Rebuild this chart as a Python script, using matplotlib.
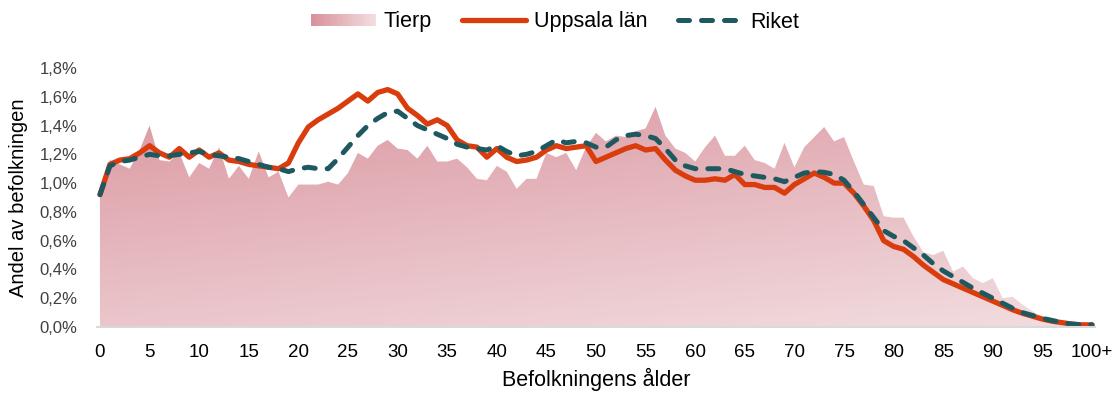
import numpy as np
import matplotlib
matplotlib.use('Agg')
import matplotlib.pyplot as plt
from matplotlib.patches import Rectangle
from matplotlib.legend_handler import HandlerBase
from matplotlib.lines import Line2D
from matplotlib.ticker import FuncFormatter, MultipleLocator
import matplotlib.colors as mcolors

plt.rcParams['font.family'] = ['Liberation Sans', 'DejaVu Sans']

# Ålder 0..100+ (andel av befolkningen, %)
ages = list(range(101))
tick_ages = list(range(0, 101, 5))
tick_labels = [str(a) for a in tick_ages[:-1]] + ['100+']

tierp = [0.90, 1.16, 1.13, 1.10, 1.23, 1.40, 1.16, 1.15, 1.21, 1.04,
         1.14, 1.10, 1.25, 1.03, 1.12, 1.03, 1.22, 1.04, 1.08, 0.90,
         0.99, 0.99, 0.99, 1.01, 0.99, 1.07, 1.21, 1.17, 1.26, 1.30,
         1.24, 1.23, 1.17, 1.26, 1.15, 1.15, 1.17, 1.11, 1.03, 1.02,
         1.12, 1.08, 0.96, 1.03, 1.03, 1.21, 1.18, 1.21, 1.09, 1.25,
         1.35, 1.29, 1.33, 1.32, 1.36, 1.38, 1.53, 1.33, 1.24, 1.21,
         1.15, 1.25, 1.33, 1.19, 1.19, 1.26, 1.16, 1.14, 1.10, 1.28,
         1.11, 1.25, 1.32, 1.39, 1.29, 1.32, 1.15, 0.99, 0.98, 0.77,
         0.76, 0.76, 0.63, 0.52, 0.50, 0.53, 0.385, 0.42, 0.34, 0.305,
         0.34, 0.20, 0.21, 0.155, 0.11, 0.07, 0.05, 0.035, 0.025, 0.02,
         0.02]

uppsala = [0.92, 1.13, 1.16, 1.17, 1.21, 1.26, 1.21, 1.18, 1.24, 1.18,
           1.23, 1.18, 1.21, 1.16, 1.15, 1.13, 1.12, 1.11, 1.10, 1.14,
           1.28, 1.39, 1.44, 1.48, 1.52, 1.57, 1.62, 1.57, 1.63, 1.65,
           1.62, 1.52, 1.47, 1.41, 1.44, 1.40, 1.30, 1.26, 1.25, 1.18,
           1.24, 1.18, 1.15, 1.16, 1.18, 1.23, 1.26, 1.24, 1.25, 1.26,
           1.15, 1.18, 1.21, 1.24, 1.26, 1.23, 1.24, 1.16, 1.09, 1.05,
           1.02, 1.02, 1.03, 1.02, 1.06, 0.99, 0.99, 0.97, 0.97, 0.93,
           0.99, 1.03, 1.07, 1.04, 1.00, 1.00, 0.93, 0.84, 0.74, 0.60,
           0.56, 0.54, 0.49, 0.43, 0.38, 0.33, 0.30, 0.27, 0.24, 0.21,
           0.18, 0.15, 0.12, 0.095, 0.075, 0.055, 0.04, 0.03, 0.02, 0.015,
           0.015]

riket = [0.92, 1.12, 1.15, 1.16, 1.18, 1.20, 1.19, 1.19, 1.20, 1.21,
         1.22, 1.20, 1.19, 1.18, 1.17, 1.15, 1.13, 1.11, 1.10, 1.08,
         1.10, 1.11, 1.10, 1.10, 1.17, 1.25, 1.33, 1.40, 1.45, 1.49,
         1.50, 1.45, 1.40, 1.37, 1.34, 1.31, 1.27, 1.25, 1.24, 1.23,
         1.26, 1.22, 1.19, 1.20, 1.22, 1.26, 1.30, 1.28, 1.29, 1.28,
         1.25, 1.25, 1.30, 1.33, 1.34, 1.33, 1.31, 1.24, 1.16, 1.12,
         1.10, 1.10, 1.10, 1.10, 1.08, 1.06, 1.05, 1.04, 1.03, 1.01,
         1.04, 1.07, 1.08, 1.075, 1.06, 1.02, 0.94, 0.85, 0.76, 0.67,
         0.63, 0.60, 0.55, 0.50, 0.44, 0.39, 0.35, 0.31, 0.27, 0.235,
         0.20, 0.165, 0.13, 0.10, 0.08, 0.06, 0.045, 0.03, 0.02, 0.015,
         0.015]

c_dark = np.array(mcolors.to_rgb('#d9919b'))
c_light = np.array(mcolors.to_rgb('#f2dde0'))
c_orange = '#d93d0e'
c_teal = '#1f5960'


class GradientHandler(HandlerBase):
    def create_artists(self, legend, orig_handle, xdescent, ydescent,
                       width, height, fontsize, trans):
        n = 30
        arts = []
        h = height * 0.85
        y0 = -ydescent + (height - h) / 2
        for i in range(n):
            t = i / (n - 1)
            col = c_dark * (1 - t) + c_light * t
            r = Rectangle((-xdescent + i * width / n, y0), width / n + 0.3, h,
                          facecolor=col, edgecolor='none', transform=trans)
            arts.append(r)
        return arts


fig = plt.figure(figsize=(11.16, 4.0), dpi=100)
ax = fig.add_axes([97 / 1116, 1 - 327 / 400, (1095 - 97) / 1116, (327 - 68) / 400])

# gradient-filled area for Tierp (dark at top, lighter towards bottom right)
poly = ax.fill_between(ages, 0, tierp, facecolor='none', edgecolor='none', zorder=1)
xx, yy = np.meshgrid(np.linspace(0, 1, 200), np.linspace(0, 1, 100))
t = np.clip(0.3 * xx + 0.7 * yy, 0, 1)
img = c_dark[None, None, :] * (1 - t[..., None]) + c_light[None, None, :] * t[..., None]
im = ax.imshow(img, extent=[-0.3, 100.3, 0, 1.8], origin='upper', aspect='auto', zorder=1)
im.set_clip_path(poly.get_paths()[0], transform=ax.transData)

ax.plot(ages, uppsala, color=c_orange, lw=3.8, solid_capstyle='round',
        solid_joinstyle='round', zorder=3)
ax.plot(ages, riket, color=c_teal, lw=3.6, dashes=(2.2, 2.4),
        dash_capstyle='round', zorder=4)

ax.set_xlim(-0.3, 100.3)
ax.set_ylim(0, 1.8)
ax.yaxis.set_major_locator(MultipleLocator(0.2))
ax.yaxis.set_major_formatter(FuncFormatter(lambda v, p: f'{v:.1f}%'.replace('.', ',')))
ax.set_xticks(tick_ages)
ax.set_xticklabels(tick_labels)
ax.tick_params(axis='y', length=0, pad=14, labelsize=12, labelcolor='#404040')
ax.tick_params(axis='x', length=0, pad=12, labelsize=13.5, labelcolor='#000000')

for s in ['top', 'right', 'left']:
    ax.spines[s].set_visible(False)
ax.spines['bottom'].set_color('#d9d9d9')
ax.spines['bottom'].set_linewidth(1.5)
ax.spines['bottom'].set_zorder(5)

ax.set_xlabel('Befolkningens ålder', fontsize=15.5, labelpad=5)
ax.set_ylabel('Andel av befolkningen', fontsize=14.5, labelpad=8)

h_tierp = Rectangle((0, 0), 1, 1)
h_upp = Line2D([], [], color=c_orange, lw=3.8, solid_capstyle='round')
h_rik = Line2D([], [], color=c_teal, lw=3.6, dashes=(2.2, 2.4), dash_capstyle='round')
fig.legend([h_tierp, h_upp, h_rik], ['Tierp', 'Uppsala län', 'Riket'],
           handler_map={Rectangle: GradientHandler()},
           loc='center', bbox_to_anchor=(555 / 1116, 1 - 22 / 400), ncol=3,
           frameon=False, fontsize=15.5, handlelength=3.0, handletextpad=0.35,
           columnspacing=1.4)

fig.savefig('out.png', dpi=100)
